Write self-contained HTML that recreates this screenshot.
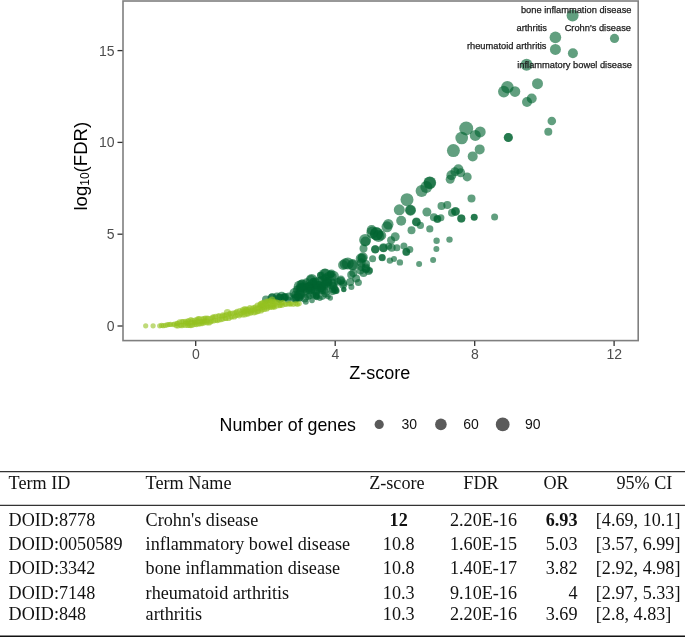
<!DOCTYPE html>
<html><head><meta charset="utf-8"><style>
html,body{margin:0;padding:0;background:#fff;}
body{width:685px;height:637px;position:relative;overflow:hidden;filter:blur(0.4px);font-family:"Liberation Sans",sans-serif;}
svg text{font-family:"Liberation Sans",sans-serif;}
.hl{position:absolute;left:0;width:685px;height:1.5px;background:#222;}
.c{position:absolute;font-family:"Liberation Serif",serif;font-size:18.15px;line-height:18px;color:#111;white-space:nowrap;}
</style></head><body>
<svg width="685" height="460" viewBox="0 0 685 460" style="position:absolute;left:0;top:0">
<g fill="#006430" fill-opacity="0.62"><circle cx="300.9" cy="288.2" r="4.4"/><circle cx="302.0" cy="286.3" r="3.9"/><circle cx="316.2" cy="296.5" r="3.1"/><circle cx="301.9" cy="283.9" r="4.3"/><circle cx="306.6" cy="291.1" r="3.7"/><circle cx="319.0" cy="284.5" r="3.4"/><circle cx="327.9" cy="282.4" r="4.3"/><circle cx="316.1" cy="296.0" r="3.4"/><circle cx="330.5" cy="274.4" r="3.8"/><circle cx="324.9" cy="272.7" r="4.0"/><circle cx="288.2" cy="299.9" r="3.3"/><circle cx="295.9" cy="298.8" r="4.0"/><circle cx="328.5" cy="279.8" r="3.4"/><circle cx="313.7" cy="281.4" r="3.7"/><circle cx="284.1" cy="297.7" r="3.9"/><circle cx="335.3" cy="290.1" r="3.4"/><circle cx="321.4" cy="289.0" r="3.2"/><circle cx="316.7" cy="285.4" r="4.1"/><circle cx="325.4" cy="293.3" r="4.2"/><circle cx="340.7" cy="280.7" r="4.0"/><circle cx="297.9" cy="296.5" r="4.3"/><circle cx="311.3" cy="290.5" r="3.6"/><circle cx="312.1" cy="289.9" r="3.1"/><circle cx="295.4" cy="294.5" r="3.9"/><circle cx="299.9" cy="298.2" r="3.1"/><circle cx="313.7" cy="285.3" r="3.3"/><circle cx="322.1" cy="285.9" r="3.9"/><circle cx="320.3" cy="275.3" r="3.3"/><circle cx="337.7" cy="281.8" r="3.9"/><circle cx="304.7" cy="298.1" r="4.3"/><circle cx="315.8" cy="285.8" r="3.5"/><circle cx="311.1" cy="279.1" r="4.2"/><circle cx="333.4" cy="276.5" r="3.2"/><circle cx="300.4" cy="290.7" r="4.0"/><circle cx="320.9" cy="275.2" r="3.7"/><circle cx="302.6" cy="293.7" r="3.3"/><circle cx="322.0" cy="286.7" r="3.9"/><circle cx="327.0" cy="282.2" r="4.2"/><circle cx="343.2" cy="284.7" r="4.0"/><circle cx="332.4" cy="291.1" r="4.1"/><circle cx="308.2" cy="296.5" r="3.5"/><circle cx="299.9" cy="287.8" r="4.2"/><circle cx="330.8" cy="274.2" r="3.5"/><circle cx="324.7" cy="291.0" r="3.8"/><circle cx="334.6" cy="288.2" r="3.5"/><circle cx="294.8" cy="298.4" r="4.4"/><circle cx="279.9" cy="298.6" r="4.5"/><circle cx="307.1" cy="288.6" r="3.3"/><circle cx="308.1" cy="286.1" r="3.9"/><circle cx="306.4" cy="282.4" r="4.2"/><circle cx="310.4" cy="285.7" r="4.0"/><circle cx="299.3" cy="297.4" r="4.4"/><circle cx="321.1" cy="279.6" r="3.5"/><circle cx="316.3" cy="291.0" r="3.8"/><circle cx="335.2" cy="290.0" r="4.3"/><circle cx="324.5" cy="277.3" r="3.1"/><circle cx="333.6" cy="283.2" r="4.2"/><circle cx="327.2" cy="286.1" r="4.0"/><circle cx="309.4" cy="286.5" r="3.9"/><circle cx="279.5" cy="298.2" r="4.5"/><circle cx="301.7" cy="295.5" r="3.5"/><circle cx="302.2" cy="286.6" r="3.6"/><circle cx="325.6" cy="282.6" r="3.3"/><circle cx="296.8" cy="289.6" r="3.8"/><circle cx="332.1" cy="282.6" r="4.3"/><circle cx="296.9" cy="294.0" r="3.1"/><circle cx="316.9" cy="290.5" r="3.3"/><circle cx="311.0" cy="287.2" r="3.6"/><circle cx="322.3" cy="295.4" r="4.5"/><circle cx="325.5" cy="277.2" r="3.6"/><circle cx="309.3" cy="286.3" r="4.5"/><circle cx="316.9" cy="297.1" r="3.1"/><circle cx="313.4" cy="295.3" r="3.1"/><circle cx="304.6" cy="290.0" r="3.1"/><circle cx="343.3" cy="283.1" r="3.8"/><circle cx="313.4" cy="281.2" r="3.4"/><circle cx="318.3" cy="288.2" r="3.4"/><circle cx="323.6" cy="278.7" r="3.0"/><circle cx="324.2" cy="284.9" r="4.5"/><circle cx="332.2" cy="289.7" r="3.2"/><circle cx="315.7" cy="284.4" r="3.3"/><circle cx="319.4" cy="284.4" r="3.4"/><circle cx="312.1" cy="283.1" r="4.2"/><circle cx="315.7" cy="280.9" r="3.4"/><circle cx="320.9" cy="288.3" r="3.9"/><circle cx="316.4" cy="295.1" r="3.3"/><circle cx="309.4" cy="290.7" r="3.6"/><circle cx="272.3" cy="297.1" r="3.9"/><circle cx="328.1" cy="275.7" r="3.6"/><circle cx="284.2" cy="297.2" r="3.6"/><circle cx="572.6" cy="15.5" r="6.0"/><circle cx="614.5" cy="38.4" r="4.6"/><circle cx="555.4" cy="37.4" r="5.8"/><circle cx="555.4" cy="49.4" r="5.5"/><circle cx="572.9" cy="53.3" r="5.0"/><circle cx="526.6" cy="64.8" r="6.0"/><circle cx="507.4" cy="87.2" r="6.2"/><circle cx="503.8" cy="91.6" r="5.8"/><circle cx="515.0" cy="91.6" r="5.3"/><circle cx="537.5" cy="83.7" r="5.5"/><circle cx="531.7" cy="98.5" r="5.0"/><circle cx="527.0" cy="102.0" r="5.0"/><circle cx="551.8" cy="121.0" r="4.3"/><circle cx="548.3" cy="131.8" r="4.0"/><circle cx="508.3" cy="137.5" r="4.6"/><circle cx="466.2" cy="128.4" r="7.0"/><circle cx="461.7" cy="138.0" r="6.3"/><circle cx="475.3" cy="135.4" r="5.5"/><circle cx="480.2" cy="131.9" r="5.5"/><circle cx="453.4" cy="150.6" r="6.5"/><circle cx="479.7" cy="149.4" r="5.0"/><circle cx="472.7" cy="156.4" r="5.0"/><circle cx="458.4" cy="169.3" r="5.0"/><circle cx="451.4" cy="175.2" r="5.0"/><circle cx="450.2" cy="179.3" r="4.5"/><circle cx="460.7" cy="172.8" r="4.5"/><circle cx="467.2" cy="176.9" r="4.5"/><circle cx="454.9" cy="171.7" r="4.5"/><circle cx="429.8" cy="182.8" r="6.4"/><circle cx="426.3" cy="186.9" r="6.0"/><circle cx="421.6" cy="191.0" r="6.0"/><circle cx="407.0" cy="199.7" r="6.5"/><circle cx="410.5" cy="210.2" r="5.5"/><circle cx="401.2" cy="220.7" r="5.0"/><circle cx="416.4" cy="221.9" r="4.5"/><circle cx="420.4" cy="225.4" r="3.6"/><circle cx="426.9" cy="212.0" r="4.5"/><circle cx="433.9" cy="217.2" r="4.0"/><circle cx="437.4" cy="219.0" r="4.0"/><circle cx="440.9" cy="217.8" r="3.5"/><circle cx="441.5" cy="206.1" r="4.0"/><circle cx="447.3" cy="205.0" r="4.0"/><circle cx="455.5" cy="211.4" r="4.5"/><circle cx="461.3" cy="218.4" r="4.0"/><circle cx="471.5" cy="198.5" r="4.0"/><circle cx="474.2" cy="217.2" r="3.5"/><circle cx="494.6" cy="217.1" r="3.5"/><circle cx="429.8" cy="228.9" r="3.6"/><circle cx="411.5" cy="230.3" r="4.0"/><circle cx="436.6" cy="240.8" r="3.2"/><circle cx="449.5" cy="239.6" r="3.2"/><circle cx="436.4" cy="248.9" r="3.0"/><circle cx="433.1" cy="260.0" r="3.0"/><circle cx="419.1" cy="264.1" r="3.0"/><circle cx="399.9" cy="262.4" r="3.2"/><circle cx="389.9" cy="260.6" r="3.2"/><circle cx="394.0" cy="258.9" r="3.0"/><circle cx="382.3" cy="257.7" r="3.5"/><circle cx="383.5" cy="247.8" r="4.5"/><circle cx="391.7" cy="247.8" r="4.0"/><circle cx="396.9" cy="247.8" r="3.5"/><circle cx="403.9" cy="246.0" r="3.5"/><circle cx="406.3" cy="251.9" r="4.0"/><circle cx="409.8" cy="249.5" r="3.5"/><circle cx="395.2" cy="236.7" r="4.5"/><circle cx="391.1" cy="240.2" r="4.0"/><circle cx="387.0" cy="226.8" r="5.5"/><circle cx="381.2" cy="235.5" r="5.0"/><circle cx="399.3" cy="209.8" r="5.5"/><circle cx="376.6" cy="233.8" r="6.5"/><circle cx="372.4" cy="232.4" r="6.0"/><circle cx="378.5" cy="236.0" r="6.0"/><circle cx="365.1" cy="239.9" r="6.0"/><circle cx="375.3" cy="249.3" r="4.0"/><circle cx="363.5" cy="248.5" r="4.0"/><circle cx="362.8" cy="257.2" r="5.0"/><circle cx="361.2" cy="262.7" r="4.5"/><circle cx="372.6" cy="258.8" r="3.5"/><circle cx="347.8" cy="263.5" r="6.0"/><circle cx="352.6" cy="265.0" r="5.0"/><circle cx="343.1" cy="265.0" r="5.0"/><circle cx="365.9" cy="269.0" r="4.0"/><circle cx="369.8" cy="270.5" r="3.2"/><circle cx="353.3" cy="272.9" r="4.0"/><circle cx="363.5" cy="272.9" r="4.0"/><circle cx="360.7" cy="258.5" r="5.0"/><circle cx="356.1" cy="278.4" r="4.0"/><circle cx="350.2" cy="281.9" r="4.0"/><circle cx="351.4" cy="287.1" r="3.0"/><circle cx="358.4" cy="282.4" r="3.5"/><circle cx="343.8" cy="289.5" r="2.7"/><circle cx="336.8" cy="291.2" r="2.7"/><circle cx="328.0" cy="296.5" r="2.7"/><circle cx="319.9" cy="298.2" r="2.7"/><circle cx="305.8" cy="301.7" r="3.0"/><circle cx="330.3" cy="298.0" r="2.7"/><circle cx="312.0" cy="300.5" r="2.8"/><circle cx="325.1" cy="274.8" r="6.3"/><circle cx="311.7" cy="280.0" r="6.0"/><circle cx="302.3" cy="285.4" r="6.0"/><circle cx="299.7" cy="286.4" r="6.0"/><circle cx="333.9" cy="276.0" r="5.0"/><circle cx="340.9" cy="280.1" r="4.5"/><circle cx="294.5" cy="293.0" r="5.0"/><circle cx="281.7" cy="296.7" r="5.0"/><circle cx="272.0" cy="298.0" r="4.5"/><circle cx="266.0" cy="299.5" r="4.0"/><circle cx="318.0" cy="283.0" r="6.0"/><circle cx="327.0" cy="283.0" r="5.5"/><circle cx="308.0" cy="288.0" r="5.0"/><circle cx="316.0" cy="291.0" r="5.0"/><circle cx="300.0" cy="294.0" r="4.5"/><circle cx="289.0" cy="296.5" r="4.0"/><circle cx="322.0" cy="290.0" r="4.0"/><circle cx="333.0" cy="286.0" r="4.0"/><circle cx="296.0" cy="298.0" r="3.5"/><circle cx="310.0" cy="295.0" r="4.0"/><circle cx="285.0" cy="297.0" r="4.0"/><circle cx="277.0" cy="296.5" r="4.0"/><circle cx="331.4" cy="273.4" r="4.0"/><circle cx="351.2" cy="274.8" r="4.0"/><circle cx="388.7" cy="246.2" r="3.5"/><circle cx="366.0" cy="264.0" r="4.0"/><circle cx="360.4" cy="270.6" r="4.0"/><circle cx="371.7" cy="230.0" r="5.0"/><circle cx="345.3" cy="263.8" r="5.5"/><circle cx="375.2" cy="249.4" r="4.2"/><circle cx="366.0" cy="268.0" r="4.5"/><circle cx="368.5" cy="271.0" r="4.0"/><circle cx="361.5" cy="267.0" r="4.0"/><circle cx="388.3" cy="224.2" r="5.2"/><circle cx="452.0" cy="212.8" r="4.0"/><circle cx="461.3" cy="218.4" r="4.0"/><circle cx="376.4" cy="233.8" r="6.5"/><circle cx="365.5" cy="241.5" r="5.0"/><circle cx="362.2" cy="258.3" r="4.8"/><circle cx="352.8" cy="264.9" r="5.8"/><circle cx="383.4" cy="248.0" r="4.0"/><circle cx="382.0" cy="257.4" r="3.4"/><circle cx="508.3" cy="137.5" r="4.4"/><circle cx="429.8" cy="182.8" r="6.0"/><circle cx="410.5" cy="210.2" r="5.0"/><circle cx="416.4" cy="221.9" r="4.0"/><circle cx="437.4" cy="219.0" r="3.5"/><circle cx="455.5" cy="211.4" r="4.0"/><circle cx="474.2" cy="217.2" r="3.3"/><circle cx="406.3" cy="251.9" r="3.6"/><circle cx="343.8" cy="289.5" r="2.5"/></g><g fill="#95c11f" fill-opacity="0.6"><circle cx="161.6" cy="325.4" r="2.6"/><circle cx="163.3" cy="325.7" r="2.6"/><circle cx="165.4" cy="325.4" r="2.6"/><circle cx="167.4" cy="324.7" r="2.6"/><circle cx="169.1" cy="324.5" r="2.6"/><circle cx="170.5" cy="324.4" r="2.6"/><circle cx="173.2" cy="324.6" r="2.6"/><circle cx="174.3" cy="324.1" r="2.6"/><circle cx="176.9" cy="323.3" r="2.6"/><circle cx="176.3" cy="325.7" r="2.6"/><circle cx="177.7" cy="323.3" r="2.6"/><circle cx="177.9" cy="326.0" r="2.6"/><circle cx="179.5" cy="321.9" r="2.6"/><circle cx="180.4" cy="325.3" r="2.6"/><circle cx="181.9" cy="321.6" r="2.6"/><circle cx="181.6" cy="325.7" r="2.6"/><circle cx="183.1" cy="321.6" r="2.6"/><circle cx="183.2" cy="325.0" r="2.6"/><circle cx="185.3" cy="321.3" r="2.6"/><circle cx="185.5" cy="323.1" r="2.6"/><circle cx="185.2" cy="325.5" r="2.6"/><circle cx="187.4" cy="321.1" r="2.6"/><circle cx="187.3" cy="322.8" r="2.6"/><circle cx="187.7" cy="325.5" r="2.6"/><circle cx="188.7" cy="320.6" r="2.6"/><circle cx="188.5" cy="323.5" r="2.6"/><circle cx="189.3" cy="325.4" r="2.6"/><circle cx="190.8" cy="319.7" r="2.6"/><circle cx="191.0" cy="322.1" r="2.6"/><circle cx="190.9" cy="325.6" r="2.6"/><circle cx="192.4" cy="320.3" r="2.6"/><circle cx="192.7" cy="322.7" r="2.6"/><circle cx="192.5" cy="325.2" r="2.6"/><circle cx="194.9" cy="320.1" r="2.6"/><circle cx="194.6" cy="322.3" r="2.6"/><circle cx="194.6" cy="324.4" r="2.6"/><circle cx="196.8" cy="319.6" r="2.6"/><circle cx="195.9" cy="322.5" r="2.6"/><circle cx="196.4" cy="324.6" r="2.6"/><circle cx="198.0" cy="318.7" r="2.6"/><circle cx="197.5" cy="321.5" r="2.6"/><circle cx="198.3" cy="324.0" r="2.6"/><circle cx="199.5" cy="318.6" r="2.6"/><circle cx="200.2" cy="321.5" r="2.6"/><circle cx="199.7" cy="323.8" r="2.6"/><circle cx="202.1" cy="318.9" r="2.6"/><circle cx="202.0" cy="321.8" r="2.6"/><circle cx="201.5" cy="323.7" r="2.6"/><circle cx="203.9" cy="318.5" r="2.6"/><circle cx="203.0" cy="321.6" r="2.6"/><circle cx="203.1" cy="323.2" r="2.6"/><circle cx="205.2" cy="318.1" r="2.6"/><circle cx="204.9" cy="320.9" r="2.6"/><circle cx="205.1" cy="322.6" r="2.6"/><circle cx="207.1" cy="318.1" r="2.6"/><circle cx="207.2" cy="321.1" r="2.6"/><circle cx="207.1" cy="322.8" r="2.6"/><circle cx="208.3" cy="318.3" r="2.6"/><circle cx="209.1" cy="322.9" r="2.6"/><circle cx="211.0" cy="318.3" r="2.6"/><circle cx="210.5" cy="321.9" r="2.6"/><circle cx="212.6" cy="317.1" r="2.6"/><circle cx="211.9" cy="321.1" r="2.6"/><circle cx="213.8" cy="316.9" r="2.6"/><circle cx="213.7" cy="321.0" r="2.6"/><circle cx="215.6" cy="316.3" r="2.6"/><circle cx="215.8" cy="320.3" r="2.6"/><circle cx="218.2" cy="315.9" r="2.6"/><circle cx="217.4" cy="320.6" r="2.6"/><circle cx="219.4" cy="315.8" r="2.6"/><circle cx="219.1" cy="319.9" r="2.6"/><circle cx="222.0" cy="316.2" r="2.6"/><circle cx="221.4" cy="319.6" r="2.6"/><circle cx="222.7" cy="314.9" r="2.6"/><circle cx="222.9" cy="319.0" r="2.6"/><circle cx="224.6" cy="315.4" r="2.6"/><circle cx="225.5" cy="318.3" r="2.6"/><circle cx="226.4" cy="314.7" r="2.6"/><circle cx="226.2" cy="318.5" r="2.6"/><circle cx="229.2" cy="314.2" r="2.6"/><circle cx="228.8" cy="318.4" r="2.6"/><circle cx="230.2" cy="313.3" r="2.6"/><circle cx="230.7" cy="317.1" r="2.6"/><circle cx="232.5" cy="313.1" r="2.6"/><circle cx="231.9" cy="316.9" r="2.6"/><circle cx="234.6" cy="312.9" r="2.6"/><circle cx="234.4" cy="317.0" r="2.6"/><circle cx="236.1" cy="312.4" r="2.6"/><circle cx="235.8" cy="315.8" r="2.6"/><circle cx="237.0" cy="311.3" r="2.6"/><circle cx="237.3" cy="315.1" r="2.6"/><circle cx="239.6" cy="310.7" r="2.6"/><circle cx="239.3" cy="315.8" r="2.6"/><circle cx="241.8" cy="311.0" r="2.6"/><circle cx="241.0" cy="313.3" r="2.6"/><circle cx="240.9" cy="314.6" r="2.6"/><circle cx="242.6" cy="309.6" r="2.6"/><circle cx="243.5" cy="312.5" r="2.6"/><circle cx="243.0" cy="315.1" r="2.6"/><circle cx="245.2" cy="309.7" r="2.6"/><circle cx="245.0" cy="311.4" r="2.6"/><circle cx="245.1" cy="314.8" r="2.6"/><circle cx="246.6" cy="309.3" r="2.6"/><circle cx="246.9" cy="311.2" r="2.6"/><circle cx="247.0" cy="313.9" r="2.6"/><circle cx="248.3" cy="309.1" r="2.6"/><circle cx="248.9" cy="311.0" r="2.6"/><circle cx="248.0" cy="314.0" r="2.6"/><circle cx="249.8" cy="307.6" r="2.6"/><circle cx="250.6" cy="311.2" r="2.6"/><circle cx="250.6" cy="313.1" r="2.6"/><circle cx="252.2" cy="308.1" r="2.6"/><circle cx="252.1" cy="310.2" r="2.6"/><circle cx="251.4" cy="312.7" r="2.6"/><circle cx="254.0" cy="307.6" r="2.6"/><circle cx="254.3" cy="310.0" r="2.6"/><circle cx="254.2" cy="312.8" r="2.6"/><circle cx="255.3" cy="306.8" r="2.6"/><circle cx="255.4" cy="309.1" r="2.6"/><circle cx="255.7" cy="312.2" r="2.6"/><circle cx="257.3" cy="305.2" r="2.6"/><circle cx="257.9" cy="308.2" r="2.6"/><circle cx="257.3" cy="311.7" r="2.6"/><circle cx="259.7" cy="304.7" r="2.6"/><circle cx="259.7" cy="306.7" r="2.6"/><circle cx="259.2" cy="309.0" r="2.6"/><circle cx="258.6" cy="311.3" r="2.6"/><circle cx="260.6" cy="303.6" r="2.6"/><circle cx="261.4" cy="305.4" r="2.6"/><circle cx="261.0" cy="307.9" r="2.6"/><circle cx="261.1" cy="310.9" r="2.6"/><circle cx="262.8" cy="302.6" r="2.6"/><circle cx="263.1" cy="305.3" r="2.6"/><circle cx="262.9" cy="307.1" r="2.6"/><circle cx="262.5" cy="309.7" r="2.6"/><circle cx="264.6" cy="302.2" r="2.6"/><circle cx="264.9" cy="304.5" r="2.6"/><circle cx="264.5" cy="307.4" r="2.6"/><circle cx="264.6" cy="309.5" r="2.6"/><circle cx="266.6" cy="301.0" r="2.6"/><circle cx="266.4" cy="303.5" r="2.6"/><circle cx="266.9" cy="306.1" r="2.6"/><circle cx="266.9" cy="308.9" r="2.6"/><circle cx="267.9" cy="301.4" r="2.6"/><circle cx="268.7" cy="303.4" r="2.6"/><circle cx="267.8" cy="306.2" r="2.6"/><circle cx="268.1" cy="307.8" r="2.6"/><circle cx="269.7" cy="300.6" r="2.6"/><circle cx="270.2" cy="302.9" r="2.6"/><circle cx="270.5" cy="306.0" r="2.6"/><circle cx="270.3" cy="307.5" r="2.6"/><circle cx="271.4" cy="301.6" r="2.6"/><circle cx="272.4" cy="304.9" r="2.6"/><circle cx="272.3" cy="307.2" r="2.6"/><circle cx="273.6" cy="301.5" r="2.6"/><circle cx="274.0" cy="305.0" r="2.6"/><circle cx="273.5" cy="306.8" r="2.6"/><circle cx="275.2" cy="301.9" r="2.6"/><circle cx="275.2" cy="304.0" r="2.6"/><circle cx="274.8" cy="307.1" r="2.6"/><circle cx="277.1" cy="302.2" r="2.6"/><circle cx="277.0" cy="305.9" r="2.6"/><circle cx="279.0" cy="302.6" r="2.6"/><circle cx="279.6" cy="305.6" r="2.6"/><circle cx="281.4" cy="303.0" r="2.6"/><circle cx="280.5" cy="305.3" r="2.6"/><circle cx="282.9" cy="302.4" r="2.6"/><circle cx="282.2" cy="305.2" r="2.6"/><circle cx="284.9" cy="304.1" r="2.6"/><circle cx="285.9" cy="304.5" r="2.6"/><circle cx="288.5" cy="303.7" r="2.6"/><circle cx="290.0" cy="304.2" r="2.6"/><circle cx="291.1" cy="303.6" r="2.6"/><circle cx="293.3" cy="304.3" r="2.6"/><circle cx="295.7" cy="303.6" r="2.6"/><circle cx="297.4" cy="304.3" r="2.6"/><circle cx="299.2" cy="303.6" r="2.6"/><circle cx="145.7" cy="325.8" r="2.6"/><circle cx="153.1" cy="325.8" r="2.6"/><circle cx="159.7" cy="325.8" r="2.6"/><circle cx="227.4" cy="312.5" r="3.6"/><circle cx="245.0" cy="309.5" r="3.4"/><circle cx="262.0" cy="304.0" r="3.6"/><circle cx="272.0" cy="300.0" r="3.5"/></g>
<rect x="123" y="1" width="515.2" height="339.6" fill="none" stroke="#7f7f7f" stroke-width="1.6"/>
<line x1="117.5" x2="122.5" y1="326.0" y2="326.0" stroke="#333" stroke-width="1.3"/>
<text x="114.6" y="330.9" text-anchor="end" font-size="14" fill="#4d4d4d">0</text>
<line x1="117.5" x2="122.5" y1="234.2" y2="234.2" stroke="#333" stroke-width="1.3"/>
<text x="114.6" y="239.1" text-anchor="end" font-size="14" fill="#4d4d4d">5</text>
<line x1="117.5" x2="122.5" y1="142.4" y2="142.4" stroke="#333" stroke-width="1.3"/>
<text x="114.6" y="147.3" text-anchor="end" font-size="14" fill="#4d4d4d">10</text>
<line x1="117.5" x2="122.5" y1="50.6" y2="50.6" stroke="#333" stroke-width="1.3"/>
<text x="114.6" y="55.5" text-anchor="end" font-size="14" fill="#4d4d4d">15</text>
<line x1="195.7" x2="195.7" y1="341" y2="346" stroke="#333" stroke-width="1.3"/>
<text x="195.8" y="359.1" text-anchor="middle" font-size="14" fill="#4d4d4d">0</text>
<line x1="335.2" x2="335.2" y1="341" y2="346" stroke="#333" stroke-width="1.3"/>
<text x="335.3" y="359.1" text-anchor="middle" font-size="14" fill="#4d4d4d">4</text>
<line x1="474.7" x2="474.7" y1="341" y2="346" stroke="#333" stroke-width="1.3"/>
<text x="474.8" y="359.1" text-anchor="middle" font-size="14" fill="#4d4d4d">8</text>
<line x1="614.1" x2="614.1" y1="341" y2="346" stroke="#333" stroke-width="1.3"/>
<text x="614.2" y="359.1" text-anchor="middle" font-size="14" fill="#4d4d4d">12</text>
<text x="379.8" y="379.2" text-anchor="middle" font-size="18" fill="#000">Z-score</text>
<text transform="translate(86.5,166.2) rotate(-90)" text-anchor="middle" font-size="18.6" fill="#000">log<tspan font-size="12" dy="2.8">10</tspan><tspan dy="-2.8">(FDR)</tspan></text>
<text x="219.6" y="430.6" font-size="17.8" fill="#000">Number of genes</text>
<circle cx="379.2" cy="424.4" r="4.6" fill="#5a5a5a"/>
<text x="401.5" y="429.2" font-size="14" fill="#111">30</text>
<circle cx="440.9" cy="424.4" r="5.8" fill="#5a5a5a"/>
<text x="463.3" y="429.2" font-size="14" fill="#111">60</text>
<circle cx="502.7" cy="424.4" r="6.9" fill="#5a5a5a"/>
<text x="525" y="429.2" font-size="14" fill="#111">90</text>
<text x="631.5" y="13" text-anchor="end" font-size="9.3" fill="#1a1a1a" stroke="#1a1a1a" stroke-width="0.25">bone inflammation disease</text>
<text x="631" y="30.7" text-anchor="end" font-size="9.3" fill="#1a1a1a" stroke="#1a1a1a" stroke-width="0.25">Crohn&#39;s disease</text>
<text x="547" y="31.3" text-anchor="end" font-size="9.3" fill="#1a1a1a" stroke="#1a1a1a" stroke-width="0.25">arthritis</text>
<text x="546.5" y="48.5" text-anchor="end" font-size="9.3" fill="#1a1a1a" stroke="#1a1a1a" stroke-width="0.25">rheumatoid arthritis</text>
<text x="632" y="67.5" text-anchor="end" font-size="9.3" fill="#1a1a1a" stroke="#1a1a1a" stroke-width="0.25">inflammatory bowel disease</text>
</svg>
<svg width="685" height="637" style="position:absolute;left:0;top:0"><g stroke="#333" stroke-width="1.3"><line x1="0" x2="685" y1="471.7" y2="471.7"/><line x1="0" x2="685" y1="505.3" y2="505.3"/><line x1="0" x2="685" y1="636.2" y2="636.2" stroke="#111" stroke-width="1.6"/></g></svg>
<div class="c" style="left:8.6px;top:473.5px;">Term ID</div>
<div class="c" style="left:145.6px;top:473.5px;">Term Name</div>
<div class="c" style="left:296.9px;width:200px;text-align:center;top:473.5px;">Z-score</div>
<div class="c" style="left:381px;width:200px;text-align:center;top:473.5px;">FDR</div>
<div class="c" style="left:456px;width:200px;text-align:center;top:473.5px;">OR</div>
<div class="c" style="right:12.700000000000045px;top:473.5px;">95% CI</div>
<div class="c" style="left:8.6px;top:511.2px;">DOID:8778</div>
<div class="c" style="left:145.6px;top:511.2px;">Crohn&#39;s disease</div>
<div class="c" style="left:298.7px;width:200px;text-align:center;top:511.2px;font-weight:bold;">12</div>
<div class="c" style="left:383.5px;width:200px;text-align:center;top:511.2px;">2.20E-16</div>
<div class="c" style="right:107.5px;top:511.2px;font-weight:bold;">6.93</div>
<div class="c" style="left:595.8px;top:511.2px;">[4.69, 10.1]</div>
<div class="c" style="left:8.6px;top:535.3px;">DOID:0050589</div>
<div class="c" style="left:145.6px;top:535.3px;">inflammatory bowel disease</div>
<div class="c" style="left:298.7px;width:200px;text-align:center;top:535.3px;">10.8</div>
<div class="c" style="left:383.5px;width:200px;text-align:center;top:535.3px;">1.60E-15</div>
<div class="c" style="right:107.5px;top:535.3px;">5.03</div>
<div class="c" style="left:595.8px;top:535.3px;">[3.57, 6.99]</div>
<div class="c" style="left:8.6px;top:559.3px;">DOID:3342</div>
<div class="c" style="left:145.6px;top:559.3px;">bone inflammation disease</div>
<div class="c" style="left:298.7px;width:200px;text-align:center;top:559.3px;">10.8</div>
<div class="c" style="left:383.5px;width:200px;text-align:center;top:559.3px;">1.40E-17</div>
<div class="c" style="right:107.5px;top:559.3px;">3.82</div>
<div class="c" style="left:595.8px;top:559.3px;">[2.92, 4.98]</div>
<div class="c" style="left:8.6px;top:584.1px;">DOID:7148</div>
<div class="c" style="left:145.6px;top:584.1px;">rheumatoid arthritis</div>
<div class="c" style="left:298.7px;width:200px;text-align:center;top:584.1px;">10.3</div>
<div class="c" style="left:383.5px;width:200px;text-align:center;top:584.1px;">9.10E-16</div>
<div class="c" style="right:107.5px;top:584.1px;">4</div>
<div class="c" style="left:595.8px;top:584.1px;">[2.97, 5.33]</div>
<div class="c" style="left:8.6px;top:604.5px;">DOID:848</div>
<div class="c" style="left:145.6px;top:604.5px;">arthritis</div>
<div class="c" style="left:298.7px;width:200px;text-align:center;top:604.5px;">10.3</div>
<div class="c" style="left:383.5px;width:200px;text-align:center;top:604.5px;">2.20E-16</div>
<div class="c" style="right:107.5px;top:604.5px;">3.69</div>
<div class="c" style="left:595.8px;top:604.5px;">[2.8, 4.83]</div>
</body></html>
